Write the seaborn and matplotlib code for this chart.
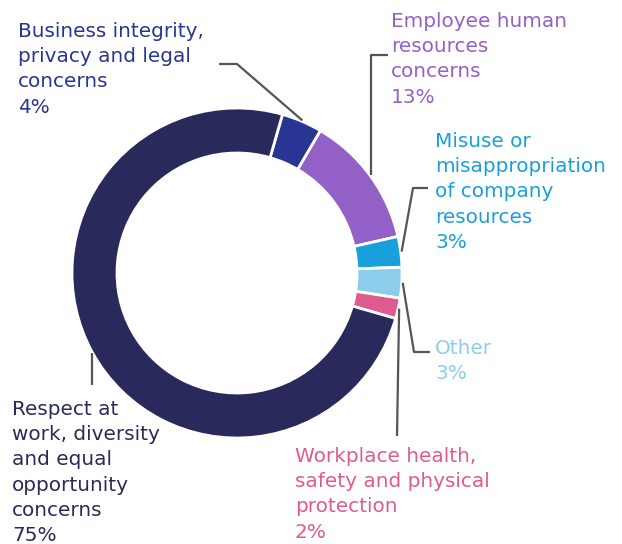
import numpy as np
import matplotlib
matplotlib.use("Agg")
import matplotlib.pyplot as plt
import seaborn as sns

# Share of reported concerns by category (clockwise from the top)
categories = [
    "Business integrity,\nprivacy and legal\nconcerns",
    "Employee human\nresources\nconcerns",
    "Misuse or\nmisappropriation\nof company\nresources",
    "Other",
    "Workplace health,\nsafety and physical\nprotection",
    "Respect at\nwork, diversity\nand equal\nopportunity\nconcerns",
]
shares = [4, 13, 3, 3, 2, 75]
colors = ["#283593", "#9360c8", "#199fdb", "#8dcdec", "#df5a8e", "#29295b"]

sns.set_theme(style="white")
plt.rcParams["font.family"] = ["DejaVu Sans"]

W, H = 622, 544
fig = plt.figure(figsize=(W / 100, H / 100), dpi=100)
ax = fig.add_axes([0, 0, 1, 1])

cx, cy, R, ring = 237, 273, 165, 45

wedges, _ = ax.pie(
    shares,
    colors=colors,
    center=(cx, cy),
    radius=R,
    startangle=-74,
    counterclock=True,
    wedgeprops=dict(width=ring, edgecolor="white", linewidth=2),
    frame=True,
)
ax.set_xlim(0, W)
ax.set_ylim(H, 0)
ax.set_aspect("equal")
ax.axis("off")

# label layout: (x, first baseline, leader elbow, leader end)
layout = [
    (18, 37, (237, 64), (219, 64)),
    (391, 27, ("v", 55), (388, 55)),
    (435, 147, (413, 188), (428, 188)),
    (435, 354, (414, 352), (430, 352)),
    (295, 462, None, (397, 436)),
    (12, 415, None, ("v", 385)),
]
step = 25.2

for w, name, val, col, (tx, ty, elbow, end) in zip(
        wedges, categories, shares, colors, layout):
    mid = np.deg2rad((w.theta1 + w.theta2) / 2)
    px = cx + (R + 1) * np.cos(mid)
    py = cy + (R + 1) * np.sin(mid)
    pts = [(px, py)]
    if elbow is not None:
        ex = px if elbow[0] == "v" else elbow[0]
        pts.append((ex, elbow[1]))
    if end[0] == "v":
        pts.append((pts[-1][0], end[1]))
    else:
        pts.append(end)
    xs, ys = zip(*pts)
    ax.plot(xs, ys, color="#555555", lw=1.6, solid_capstyle="butt", zorder=1)

    lines = name.split("\n") + [f"{val}%"]
    for i, line in enumerate(lines):
        ax.text(tx, ty + i * step, line, color=col, fontsize=14.4,
                ha="left", va="baseline")

fig.savefig("out.png", dpi=100, facecolor="white")
